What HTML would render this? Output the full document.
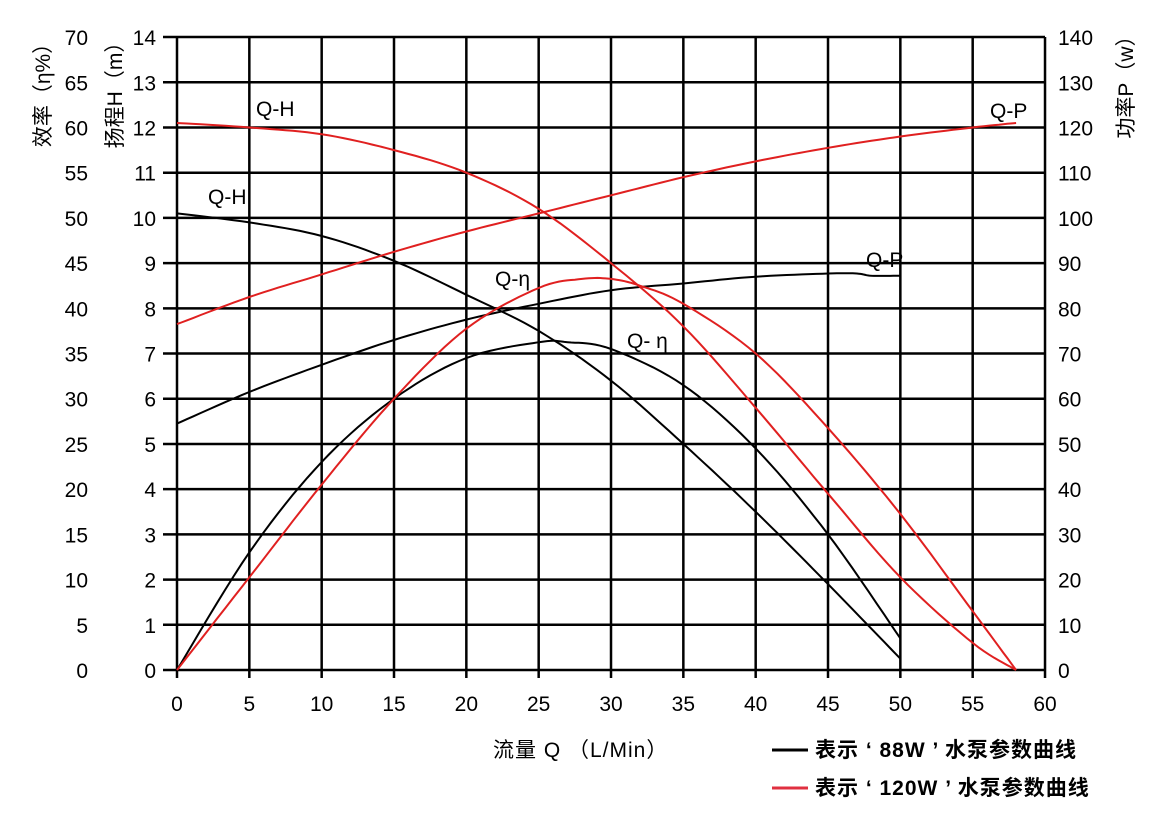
<!DOCTYPE html><html><head><meta charset="utf-8"><style>body{margin:0;background:#fff}svg{display:block}text{font-family:"Liberation Sans","Noto Sans CJK SC",sans-serif;font-size:21px;fill:#000}</style></head><body>
<svg width="1158" height="813" xmlns="http://www.w3.org/2000/svg" id="s"></svg>
<script>
const X=q=>177+q*14.467, Y=h=>670-h*45.21;
let s='';
for(let i=0;i<=14;i++){const y=Y(i);s+=`<line x1="163" y1="${y}" x2="1045" y2="${y}" stroke="#000" stroke-width="2.5"/>`;
s+=`<text x="156" y="${y+8}" text-anchor="end">${i}</text><text x="88" y="${y+8}" text-anchor="end">${i*5}</text><text x="1058" y="${y+8}">${i*10}</text>`;}
for(let i=0;i<=12;i++){const x=X(i*5);s+=`<line x1="${x}" y1="${Y(14)}" x2="${x}" y2="678" stroke="#000" stroke-width="2.5"/><text x="${x}" y="711" text-anchor="middle">${i*5}</text>`;}
function P(pts,c){let d='';for(let i=0;i<pts.length-1;i++){const p0=pts[Math.max(0,i-1)],p1=pts[i],p2=pts[i+1],p3=pts[Math.min(pts.length-1,i+2)];
for(let t=0;t<=1;t+=0.1){const t2=t*t,t3=t2*t;const f=(a,b,c2,d2)=>0.5*(2*b+(-a+c2)*t+(2*a-5*b+4*c2-d2)*t2+(-a+3*b-3*c2+d2)*t3);
d+=(d?'L':'M')+X(f(p0[0],p1[0],p2[0],p3[0])).toFixed(1)+','+Y(f(p0[1],p1[1],p2[1],p3[1])).toFixed(1);}}
s+=`<path d="${d}" fill="none" stroke="${c}" stroke-width="2"/>`;}
const K='#000',R='#e02020';
P([[0,10.1],[5,9.9],[10,9.6],[15,9.05],[20,8.3],[25,7.5],[30,6.4],[35,5.0],[40,3.5],[45,1.9],[50,0.25]],K);
P([[0,0],[5,2.6],[10,4.6],[15,6.0],[20,6.9],[25,7.25],[27,7.25],[30,7.1],[35,6.3],[40,4.9],[45,3.0],[50,0.7]],K);
P([[0,5.45],[5,6.15],[10,6.75],[15,7.3],[20,7.75],[25,8.1],[30,8.4],[35,8.55],[40,8.7],[45,8.77],[47,8.77],[48,8.72],[50,8.72]],K);
P([[0,12.1],[5,12.0],[10,11.85],[15,11.5],[20,11.0],[25,10.2],[30,9.0],[35,7.6],[40,5.8],[45,3.9],[50,2.05],[55,0.6],[58,0]],R);
P([[0,0],[5,2.05],[10,4.1],[15,6.0],[20,7.55],[25,8.45],[28,8.65],[30,8.65],[32,8.5],[35,8.1],[40,7.0],[45,5.35],[50,3.45],[55,1.3],[58,0]],R);
P([[0,7.65],[5,8.25],[10,8.75],[15,9.25],[20,9.7],[25,10.1],[30,10.5],[35,10.9],[40,11.25],[45,11.55],[50,11.8],[55,12.0],[58,12.1]],R);
s+=`<text x="256" y="116" font-size="19">Q-H</text><text x="208" y="204" font-size="19">Q-H</text><text x="990" y="118" font-size="19">Q-P</text><text x="866" y="267" font-size="19">Q-P</text><text x="495" y="286" font-size="19">Q-η</text><text x="627" y="348" font-size="19">Q- η</text>`;
s+=`<text transform="translate(50,90) rotate(-90)" text-anchor="middle">效率（η%）</text><text transform="translate(122,90) rotate(-90)" text-anchor="middle">扬程H（m）</text><text transform="translate(1133,82) rotate(-90)" text-anchor="middle">功率P（w）</text>`;
s+=`<text x="493" y="757" letter-spacing="1">流量 Q （L/Min）</text>`;
s+=`<line x1="772" y1="750" x2="808" y2="750" stroke="#000" stroke-width="3"/><line x1="772" y1="788" x2="808" y2="788" stroke="#e03040" stroke-width="3"/>`;
s+=`<text x="815" y="757" font-weight="bold" font-size="19" letter-spacing="1">表示 ‘ 88W ’ 水泵参数曲线</text><text x="815" y="795" font-weight="bold" font-size="19" letter-spacing="1">表示 ‘ 120W ’ 水泵参数曲线</text>`;
document.getElementById('s').innerHTML=s;
</script></body></html>
